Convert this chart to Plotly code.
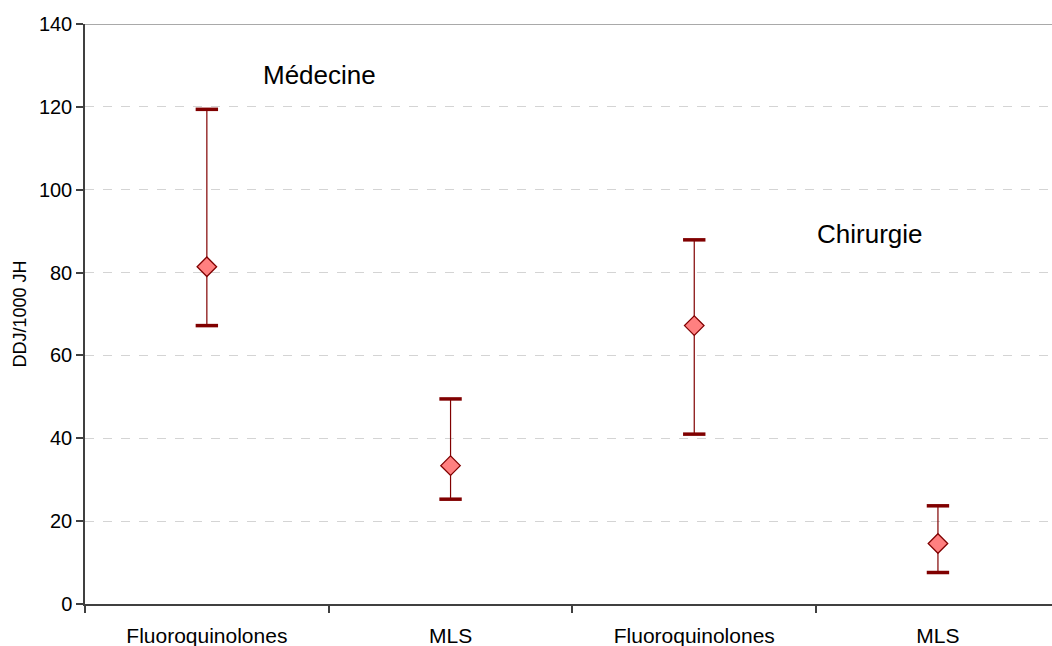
import plotly.graph_objects as go

categories = ["Fluoroquinolones", "MLS", "Fluoroquinolones", "MLS"]
positions = [1, 2, 3, 4]
means = [81.4, 33.4, 67.2, 14.6]
upper = [119.4, 49.5, 87.9, 23.7]
lower = [67.2, 25.3, 41.0, 7.6]
y_ticks = [0, 20, 40, 60, 80, 100, 120, 140]

err_plus = [u - m for u, m in zip(upper, means)]
err_minus = [m - l for m, l in zip(means, lower)]

DARK = "#800000"
FONT = "Liberation Sans, Arial, sans-serif"

fig = go.Figure()

# vertical error lines (thin)
fig.add_trace(go.Scatter(
    x=positions, y=means, mode="markers",
    marker=dict(size=1, color="rgba(0,0,0,0)"),
    error_y=dict(type="data", symmetric=False, array=err_plus, arrayminus=err_minus,
                 color=DARK, thickness=1.2, width=0),
    hoverinfo="skip", showlegend=False,
))
# caps (thick)
fig.add_trace(go.Scatter(
    x=positions + positions, y=upper + lower, mode="markers",
    marker=dict(symbol="line-ew", size=16, line=dict(color=DARK, width=3.5)),
    hoverinfo="skip", showlegend=False,
))
# mean markers
fig.add_trace(go.Scatter(
    x=positions, y=means, mode="markers",
    marker=dict(symbol="diamond", size=15, color="#FF8080",
                line=dict(color=DARK, width=1.3)),
    showlegend=False,
))

fig.add_annotation(x=1.462, y=127.7, xref="x", yref="y", text="Médecine",
                   showarrow=False, font=dict(family=FONT, size=26, color="#000000"))
fig.add_annotation(x=3.723, y=89.3, xref="x", yref="y", text="Chirurgie",
                   showarrow=False, font=dict(family=FONT, size=26, color="#000000"))

# top border line at 140
fig.add_shape(type="line", xref="paper", yref="y", x0=0, x1=1, y0=140, y1=140,
              line=dict(color="#8c8c8c", width=1.5), layer="below")

fig.update_layout(
    width=1052, height=646,
    margin=dict(l=85, r=0, t=24, b=42),
    paper_bgcolor="white", plot_bgcolor="white",
    font=dict(family=FONT, size=20, color="#000000"),
    xaxis=dict(
        range=[0.5, 4.468], tickmode="array", tickvals=positions, ticktext=categories,
        ticks="", showgrid=False, zeroline=False,
        showline=True, linecolor="#404040", linewidth=1.5,
        minor=dict(tickmode="array", tickvals=[0.5, 1.5, 2.5, 3.5], ticks="outside",
                   ticklen=7, tickcolor="#404040", tickwidth=1.5, showgrid=False),
        tickfont=dict(size=21),
        ticklabelstandoff=12,
    ),
    yaxis=dict(
        range=[0, 140], tickmode="array", tickvals=y_ticks,
        ticks="outside", ticklen=7, tickcolor="#404040", tickwidth=1.5,
        showline=True, linecolor="#404040", linewidth=1.5,
        showgrid=True, gridcolor="#d4d4d4", griddash="dash", gridwidth=1,
        zeroline=False,
        title=dict(text="DDJ/1000 JH", font=dict(size=18), standoff=8),
        tickfont=dict(size=20),
    ),
)

fig.write_html("out.html")
